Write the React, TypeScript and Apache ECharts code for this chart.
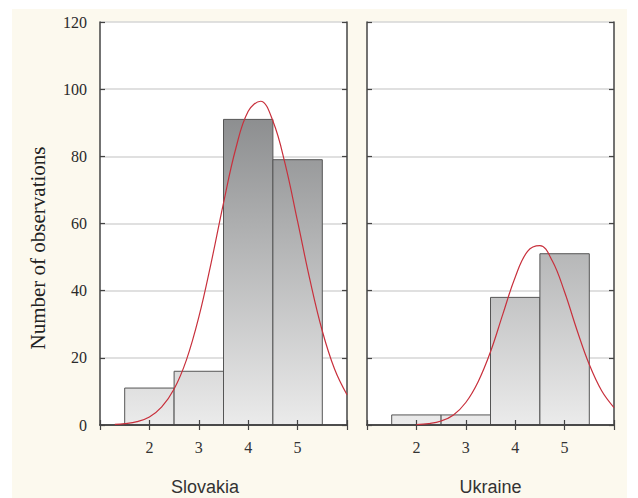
import React, { useEffect, useRef } from "react";
import * as echarts from "echarts";

const binCenters = [2, 3, 4, 5];
const slovakiaCounts = [11, 16, 91, 79];
const ukraineCounts = [3, 3, 38, 51];
const binWidth = 1;

const slovakiaCurveX = [1.3, 1.5, 1.75, 2, 2.25, 2.5, 2.75, 3, 3.25, 3.5, 3.75, 4, 4.25, 4.5, 4.75, 5, 5.25, 5.5, 5.75, 6];
const slovakiaCurveY = [0.2, 0.4, 1.0, 2.4, 5.4, 10.7, 19.4, 32.1, 48.3, 66.1, 82.4, 93.4, 96.4, 90.5, 77.6, 60.6, 43.2, 28.0, 16.6, 9.0];
const ukraineCurveX = [2, 2.25, 2.5, 2.75, 3, 3.25, 3.5, 3.75, 4, 4.25, 4.5, 4.75, 5, 5.25, 5.5, 5.75, 6];
const ukraineCurveY = [0.1, 0.4, 1.2, 3.0, 6.7, 12.9, 21.8, 33.0, 44.0, 51.7, 53.4, 48.9, 39.6, 28.3, 18.0, 10.2, 5.2];

const yTicks = [0, 20, 40, 60, 80, 100, 120];
const panelNames = ["Slovakia", "Ukraine"];

const serif = "'Liberation Serif', 'DejaVu Serif', serif";
const sans = "'Liberation Sans', Arial, sans-serif";

export default function App() {
  const ref = useRef<HTMLDivElement>(null);
  useEffect(() => {
    if (!ref.current) return;
    const chart = echarts.init(ref.current, null, { renderer: "svg" });
    const grids = [
      { left: 100, top: 22, width: 247, height: 403 },
      { left: 367, top: 22, width: 247, height: 403 },
    ];
    const frame = { show: true, lineStyle: { color: "#444", width: 1.5 } };
    const tick = { show: true, inside: true, length: 5, lineStyle: { color: "#444", width: 1.2 } };
    const xAxes: any[] = [];
    const yAxes: any[] = [];
    grids.forEach((g, i) => {
      xAxes.push({
        type: "value", gridIndex: i, position: "bottom", min: 1, max: 6, interval: 1, z: 10,
        axisLine: frame, axisTick: tick, splitLine: { show: false },
        axisLabel: {
          margin: 14, fontFamily: serif, fontSize: 16, color: "#333",
          formatter: (v: number) => (binCenters.includes(v) ? String(v) : ""),
        },
      });
      xAxes.push({
        type: "value", gridIndex: i, position: "top", min: 1, max: 6, interval: 1, z: 10,
        axisLine: frame, axisTick: tick, splitLine: { show: false }, axisLabel: { show: false },
      });
      yAxes.push({
        type: "value", gridIndex: i, position: "left", min: yTicks[0], max: yTicks[yTicks.length - 1], interval: 20,
        axisLine: frame, axisTick: tick,
        splitLine: { show: true, lineStyle: { color: "#d6d6d6", width: 1.5 } },
        axisLabel: { show: i === 0, margin: 13, fontFamily: serif, fontSize: 16, color: "#2a2a2a" },
      });
      yAxes.push({
        type: "value", gridIndex: i, position: "right", min: yTicks[0], max: yTicks[yTicks.length - 1], interval: 20,
        axisLine: frame, axisTick: tick, splitLine: { show: false }, axisLabel: { show: false },
      });
    });
    const barFill = new echarts.graphic.LinearGradient(0, 22, 0, 425, [
      { offset: 0, color: "#6f7173" },
      { offset: 1, color: "#ebebeb" },
    ], true);
    const renderBar = (params: any, api: any) => {
      const x = api.value(0);
      const h = api.value(1);
      const p1 = api.coord([x - binWidth / 2, h]);
      const p2 = api.coord([x + binWidth / 2, 0]);
      return {
        type: "rect",
        shape: { x: p1[0], y: p1[1], width: p2[0] - p1[0], height: p2[1] - p1[1] },
        style: { fill: barFill, stroke: "#555", lineWidth: 1 },
      };
    };
    const counts = [slovakiaCounts, ukraineCounts];
    const curves = [
      slovakiaCurveX.map((x, k) => [x, slovakiaCurveY[k]]),
      ukraineCurveX.map((x, k) => [x, ukraineCurveY[k]]),
    ];
    const series: any[] = [];
    [0, 1].forEach((i) => {
      series.push({
        type: "custom", xAxisIndex: i * 2, yAxisIndex: i * 2,
        data: binCenters.map((c, k) => [c, counts[i][k]]),
        encode: { x: 0, y: 1 }, renderItem: renderBar, z: 2,
      });
      series.push({
        type: "line", xAxisIndex: i * 2, yAxisIndex: i * 2, data: curves[i],
        smooth: 0.4, showSymbol: false, symbol: "none",
        lineStyle: { color: "#c8303c", width: 1.2 }, z: 11,
      });
    });
    chart.setOption({
      animation: false,
      backgroundColor: "#ffffff",
      grid: grids.map((g) => ({ ...g, show: true, backgroundColor: "#ffffff", borderWidth: 0 })),
      xAxis: xAxes,
      yAxis: yAxes,
      series,
      graphic: [
        { type: "rect", z: -100, silent: true, shape: { x: 12, y: 9, width: 615, height: 489 }, style: { fill: "#fcf9ee" } },
        {
          type: "text", x: 38, y: 248, rotation: Math.PI / 2,
          style: { text: "Number of observations", font: `21px ${serif}`, fill: "#222", textAlign: "center", textVerticalAlign: "middle" },
        },
        {
          type: "text", x: 205, y: 487,
          style: { text: panelNames[0], font: `18px ${sans}`, fill: "#333", textAlign: "center", textVerticalAlign: "middle" },
        },
        {
          type: "text", x: 490.5, y: 487,
          style: { text: panelNames[1], font: `18px ${sans}`, fill: "#333", textAlign: "center", textVerticalAlign: "middle" },
        },
      ],
    });
    return () => chart.dispose();
  }, []);
  return <div ref={ref} style={{ position: "absolute", left: 0, top: 0, width: 638, height: 498 }} />;
}
